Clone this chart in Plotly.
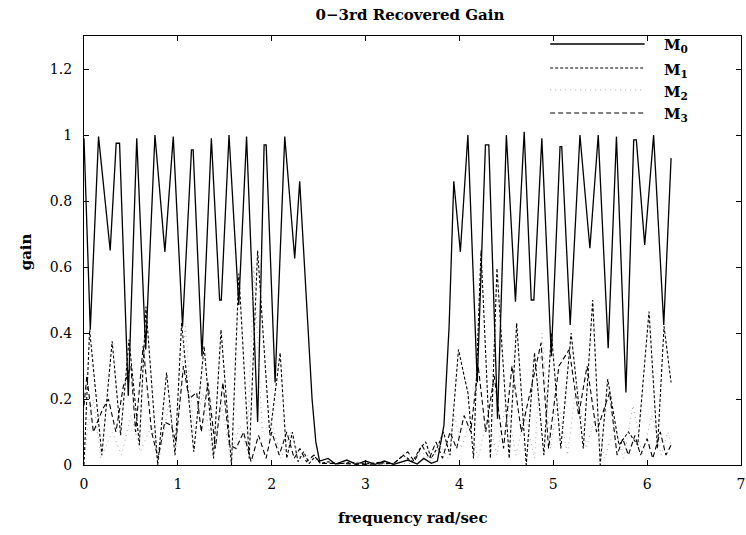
import plotly.graph_objects as go

# ---------------- data ----------------
m0_x = [0.00, 0.067, 0.155, 0.279, 0.343, 0.379, 0.472, 0.562, 0.657, 0.756, 0.862, 0.951,
        1.05, 1.145, 1.163, 1.257, 1.357, 1.445, 1.463, 1.545, 1.649, 1.732, 1.85, 1.919,
        1.941, 2.036, 2.139, 2.245, 2.298, 2.33, 2.38, 2.43, 2.47, 2.51,
        2.6, 2.68, 2.8, 2.9, 3.0, 3.1, 3.2, 3.3, 3.45, 3.55, 3.62, 3.7, 3.765,
        3.835, 3.89, 3.92, 3.94, 4.01, 4.09, 4.19, 4.277, 4.313, 4.406, 4.5, 4.597,
        4.69, 4.765, 4.793, 4.878, 4.979, 5.072, 5.09, 5.18, 5.284, 5.39, 5.479,
        5.585, 5.673, 5.774, 5.857, 5.885, 5.974, 6.069, 6.177, 6.255]
m0_y = [0.99, 0.41, 0.995, 0.65, 0.975, 0.975, 0.21, 0.99, 0.35, 1.0, 0.646, 0.995,
        0.42, 0.955, 0.955, 0.33, 0.99, 0.50, 0.50, 1.0, 0.485, 0.995, 0.13, 0.97,
        0.97, 0.25, 0.995, 0.626, 0.86, 0.70, 0.42, 0.20, 0.07, 0.012,
        0.02, 0.003, 0.015, 0.002, 0.012, 0.002, 0.012, 0.002, 0.015, 0.003, 0.02, 0.005, 0.012,
        0.12, 0.42, 0.73, 0.86, 0.646, 1.0, 0.25, 0.97, 0.97, 0.14, 1.0, 0.495,
        1.01, 0.50, 0.50, 0.99, 0.33, 0.965, 0.965, 0.424, 1.0, 0.657, 1.0,
        0.354, 0.995, 0.22, 0.985, 0.985, 0.667, 1.0, 0.424, 0.93]

m1_x = [0.0, 0.06, 0.19, 0.30, 0.39, 0.48, 0.59, 0.66, 0.785, 0.88, 0.97, 1.04, 1.17,
        1.28, 1.38, 1.46, 1.571, 1.65, 1.76, 1.85, 1.98, 2.09, 2.16, 2.22, 2.28, 2.34,
        2.4, 2.46, 2.52, 2.6, 2.7, 2.85, 3.0, 3.15, 3.3, 3.4, 3.5, 3.58, 3.64, 3.7,
        3.76, 3.83, 3.9, 3.99, 4.05, 4.09, 4.15, 4.23, 4.33, 4.40, 4.53, 4.61, 4.712,
        4.80, 4.90, 4.98, 5.08, 5.19, 5.32, 5.42, 5.50, 5.58, 5.70, 5.80, 5.90, 6.02,
        6.11, 6.18, 6.255]
m1_y = [0.0, 0.41, 0.03, 0.375, 0.09, 0.38, 0.06, 0.48, 0.0, 0.28, 0.03, 0.43, 0.04,
        0.36, 0.02, 0.41, 0.0, 0.58, 0.02, 0.65, 0.09, 0.34, 0.02, 0.10, 0.01, 0.04,
        0.005, 0.025, 0.004, 0.01, 0.003, 0.008, 0.003, 0.008, 0.003, 0.03, 0.01, 0.05, 0.07, 0.02,
        0.05, 0.10, 0.03, 0.35, 0.27, 0.22, 0.02, 0.65, 0.02, 0.596, 0.02, 0.43, 0.0,
        0.34, 0.03, 0.40, 0.05, 0.40, 0.05, 0.50, 0.0, 0.26, 0.06, 0.10, 0.06, 0.465,
        0.05, 0.42, 0.25]

m2_x = [0.0, 0.04, 0.10, 0.18, 0.30, 0.40, 0.50, 0.60, 0.72, 0.80, 0.90, 0.98, 1.08,
        1.17, 1.27, 1.37, 1.47, 1.56, 1.66, 1.74, 1.81, 1.90, 2.00, 2.10, 2.20, 2.30,
        2.40, 2.50, 3.00, 3.50, 3.60, 3.70, 3.80, 3.88, 3.95, 4.02, 4.10, 4.20, 4.30,
        4.40, 4.50, 4.60, 4.70, 4.80, 4.88, 4.97, 5.05, 5.15, 5.25, 5.35, 5.45, 5.55,
        5.65, 5.75, 5.85, 5.95, 6.05, 6.15, 6.22, 6.255]
m2_y = [0.0, 0.12, 0.20, 0.02, 0.10, 0.03, 0.15, 0.04, 0.12, 0.02, 0.18, 0.05, 0.42,
        0.10, 0.22, 0.03, 0.18, 0.02, 0.12, 0.05, 0.60, 0.10, 0.13, 0.02, 0.10, 0.02,
        0.03, 0.005, 0.003, 0.005, 0.04, 0.01, 0.06, 0.02, 0.15, 0.05, 0.12, 0.02, 0.15,
        0.03, 0.20, 0.03, 0.15, 0.02, 0.40, 0.05, 0.20, 0.03, 0.25, 0.05, 0.15, 0.02,
        0.12, 0.02, 0.18, 0.03, 0.15, 0.03, 0.10, 0.06]

m3_x = [0.0, 0.03, 0.10, 0.20, 0.26, 0.34, 0.42, 0.50, 0.55, 0.63, 0.72, 0.79, 0.86,
        0.93, 0.98, 1.06, 1.12, 1.20, 1.25, 1.32, 1.40, 1.48, 1.55, 1.62, 1.70, 1.78,
        1.86, 1.94, 2.00, 2.08, 2.16, 2.24, 2.30, 2.37, 2.45, 2.52, 2.70, 3.00, 3.30,
        3.45, 3.52, 3.60, 3.68, 3.75, 3.82, 3.90, 3.97, 4.05, 4.12, 4.20, 4.28, 4.37,
        4.47, 4.56, 4.66, 4.74, 4.87, 4.95, 5.06, 5.17, 5.27, 5.36, 5.46, 5.60, 5.68,
        5.74, 5.80, 5.87, 5.93, 6.00, 6.06, 6.14, 6.20, 6.255]
m3_y = [0.18, 0.27, 0.10, 0.17, 0.20, 0.10, 0.24, 0.30, 0.10, 0.36, 0.10, 0.02, 0.13,
        0.12, 0.07, 0.30, 0.20, 0.22, 0.10, 0.25, 0.05, 0.25, 0.06, 0.05, 0.10, 0.01,
        0.09, 0.02, 0.10, 0.03, 0.10, 0.02, 0.05, 0.01, 0.03, 0.005, 0.005, 0.002, 0.005,
        0.04, 0.01, 0.06, 0.02, 0.07, 0.02, 0.10, 0.05, 0.15, 0.10, 0.30, 0.10, 0.27,
        0.05, 0.30, 0.10, 0.20, 0.37, 0.05, 0.30, 0.35, 0.15, 0.30, 0.10, 0.22, 0.03,
        0.08, 0.03, 0.09, 0.03, 0.08, 0.02, 0.10, 0.03, 0.06]

x_ticks = [0, 1, 2, 3, 4, 5, 6, 7]
y_ticks = [0, 0.2, 0.4, 0.6, 0.8, 1.0, 1.2]
y_ticktext = ["0", "0.2", "0.4", "0.6", "0.8", "1", "1.2"]
series_subscripts = ["0", "1", "2", "3"]

# ---------------- styles ----------------
styles = [
    dict(color="black", width=1.3, dash="solid"),
    dict(color="black", width=1.1, dash="3px,2px"),
    dict(color="#a8a8a8", width=1.0, dash="1px,4px"),
    dict(color="black", width=1.1, dash="5px,3px"),
]

FONT = "DejaVu Serif"

fig = go.Figure()
for (xs, ys), st, sub in zip([(m0_x, m0_y), (m1_x, m1_y), (m2_x, m2_y), (m3_x, m3_y)],
                             styles, series_subscripts):
    fig.add_trace(go.Scatter(x=xs, y=ys, mode="lines", line=st, name="M" + sub,
                             showlegend=False))

# manual legend (long line samples, labels on the right)
L, R, T, B = 84, 745, 36, 465
W, H = R - L, B - T
def px(x):
    return (x - L) / W
def py(y):
    return (B - y) / H

legend_rows = [44, 68, 90, 113]
shapes = []
annotations = []
for row, st, sub in zip(legend_rows, styles, series_subscripts):
    shapes.append(dict(type="line", xref="paper", yref="paper",
                       x0=px(553), x1=px(648), y0=py(row), y1=py(row),
                       line=st))
    annotations.append(dict(text="<b>M</b><sub><b>" + sub + "</b></sub>", xref="paper", yref="paper",
                            x=px(666), y=py(row + 2), xanchor="left", yanchor="middle",
                            showarrow=False, font=dict(family=FONT, size=15, color="black")))

annotations.append(dict(text="<b>frequency rad/sec</b>", xref="paper", yref="paper",
                        x=px(415), y=py(518), xanchor="center", yanchor="middle",
                        showarrow=False, font=dict(family=FONT, size=15, color="black")))
annotations.append(dict(text="<b>gain</b>", xref="paper", yref="paper",
                        x=px(26), y=py(252), xanchor="center", yanchor="middle",
                        textangle=-90, showarrow=False,
                        font=dict(family=FONT, size=15, color="black")))

fig.update_layout(
    width=746, height=535,
    margin=dict(l=L, r=746 - R, t=T, b=535 - B),
    paper_bgcolor="white", plot_bgcolor="white",
    title=dict(text="<b>0\u22123rd Recovered Gain</b>", x=410 / 746, xanchor="center",
               y=1 - 15 / 535, yanchor="middle",
               font=dict(family=FONT, size=15, color="black")),
    shapes=shapes, annotations=annotations,
    xaxis=dict(range=[0, 7], tickvals=x_ticks, ticktext=[str(v) for v in x_ticks],
               showline=True, linecolor="black", linewidth=1.2, mirror="ticks",
               ticks="inside", ticklen=5, tickcolor="black", showgrid=False, zeroline=False,
               ticklabelstandoff=6, ticklabeloverflow="allow",
               tickfont=dict(family=FONT, size=14, color="black")),
    yaxis=dict(range=[0, 1.3], tickvals=y_ticks, ticktext=y_ticktext,
               showline=True, linecolor="black", linewidth=1.2, mirror="ticks",
               ticks="inside", ticklen=5, tickcolor="black", showgrid=False, zeroline=False,
               ticklabelstandoff=8,
               tickfont=dict(family=FONT, size=14, color="black")),
)

fig.write_html("out.html")
